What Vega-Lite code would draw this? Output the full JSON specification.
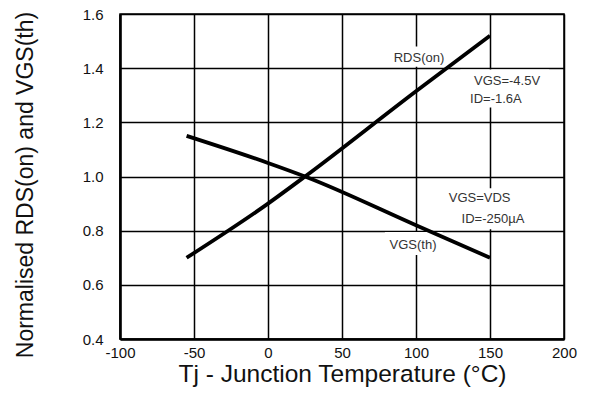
{
  "$schema": "https://vega.github.io/schema/vega-lite/v6.json",
  "width": 444,
  "height": 325,
  "autosize": "none",
  "padding": {"left": 120, "top": 14, "right": 26, "bottom": 55},
  "background": "white",
  "config": {
    "font": "Liberation Sans",
    "view": {"stroke": "black", "strokeWidth": 1.5}
  },
  "datasets": {
    "curves": [
      {"series": "RDS(on)", "t": -55, "v": 0.70},
      {"series": "RDS(on)", "t": 0, "v": 0.90},
      {"series": "RDS(on)", "t": 25, "v": 1.0},
      {"series": "RDS(on)", "t": 100, "v": 1.315},
      {"series": "RDS(on)", "t": 150, "v": 1.52},
      {"series": "VGS(th)", "t": -55, "v": 1.15},
      {"series": "VGS(th)", "t": 0, "v": 1.05},
      {"series": "VGS(th)", "t": 25, "v": 1.0},
      {"series": "VGS(th)", "t": 100, "v": 0.82},
      {"series": "VGS(th)", "t": 150, "v": 0.70}
    ],
    "boxes": [
      {"t": 82, "t2": 122, "v": 1.405, "v2": 1.48},
      {"t": 130, "t2": 190, "v": 1.255, "v2": 1.395},
      {"t": 118, "t2": 180, "v": 0.805, "v2": 0.957},
      {"t": 79, "t2": 118, "v": 0.71, "v2": 0.795}
    ],
    "labels": [
      {"label": "RDS(on)", "t": 102, "v": 1.4375},
      {"label": "VGS=-4.5V", "t": 161.5, "v": 1.353},
      {"label": "ID=-1.6A", "t": 154, "v": 1.286},
      {"label": "VGS=VDS", "t": 143, "v": 0.921},
      {"label": "ID=-250µA", "t": 152, "v": 0.843},
      {"label": "VGS(th)", "t": 98, "v": 0.747}
    ]
  },
  "encoding": {
    "x": {
      "field": "t",
      "type": "quantitative",
      "scale": {"domain": [-100, 200], "nice": false, "zero": false},
      "axis": {
        "values": [-100, -50, 0, 50, 100, 150, 200],
        "labelExpr": "datum.value < 0 ? '-' + abs(datum.value) : '' + datum.value",
        "grid": true,
        "gridColor": "black",
        "gridWidth": 1.5,
        "gridOpacity": 1,
        "ticks": false,
        "domainColor": "black",
        "domainWidth": 2.5,
        "labelFontSize": 15,
        "labelColor": "#111",
        "labelPadding": 6,
        "labelFlush": false,
        "labelOverlap": false,
        "title": "Tj - Junction Temperature (°C)",
        "titleFontSize": 24.5,
        "titleFontWeight": "normal",
        "titleColor": "#111",
        "titleX": 222,
        "titleY": 42,
        "titleAlign": "center",
        "titleBaseline": "alphabetic"
      }
    },
    "y": {
      "field": "v",
      "type": "quantitative",
      "scale": {"domain": [0.4, 1.6], "nice": false, "zero": false},
      "axis": {
        "values": [0.4, 0.6, 0.8, 1.0, 1.2, 1.4, 1.6],
        "format": ".1f",
        "grid": true,
        "gridColor": "black",
        "gridWidth": 1.5,
        "gridOpacity": 1,
        "ticks": false,
        "domainColor": "black",
        "domainWidth": 2.5,
        "labelFontSize": 15,
        "labelColor": "#111",
        "labelPadding": 17,
        "labelFlush": false,
        "labelOverlap": false,
        "title": "Normalised RDS(on) and VGS(th)",
        "titleFontSize": 23,
        "titleFontWeight": "normal",
        "titleColor": "#111",
        "titleAngle": -90,
        "titleX": -88,
        "titleY": 170.5,
        "titleAlign": "center",
        "titleBaseline": "alphabetic"
      }
    }
  },
  "layer": [
    {
      "data": {"name": "boxes"},
      "mark": {"type": "rect", "fill": "white", "stroke": null},
      "encoding": {
        "x2": {"field": "t2"},
        "y2": {"field": "v2"}
      }
    },
    {
      "data": {"name": "curves"},
      "mark": {"type": "line", "color": "black", "strokeWidth": 3.8, "interpolate": "monotone", "strokeCap": "butt"},
      "encoding": {
        "detail": {"field": "series", "type": "nominal"}
      }
    },
    {
      "data": {"name": "labels"},
      "mark": {"type": "text", "fontSize": 13, "color": "#333", "align": "center", "baseline": "middle"},
      "encoding": {
        "text": {"field": "label", "type": "nominal"}
      }
    }
  ]
}
